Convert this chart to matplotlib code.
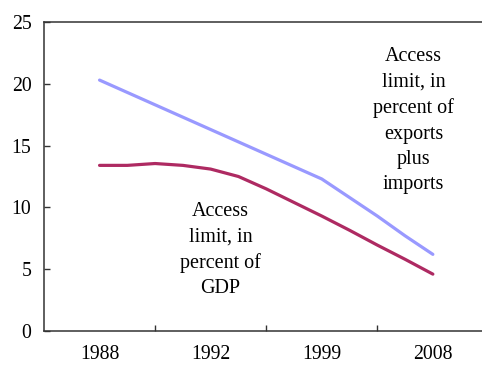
import matplotlib
matplotlib.use("Agg")
import matplotlib.pyplot as plt
import numpy as np

# Category axis: 13 points, only every 4th labelled
tick_labels = ["1988", "1992", "1999", "2008"]
label_idx = [0, 4, 8, 12]

# Access limit, percent of exports plus imports
trade_limit = [20.3, 19.3, 18.3, 17.3, 16.3, 15.3, 14.3, 13.3, 12.3, 10.8, 9.3, 7.7, 6.2]
# Access limit, percent of GDP
gdp_limit = [13.4, 13.4, 13.55, 13.4, 13.1, 12.5, 11.5, 10.4, 9.3, 8.15, 6.95, 5.8, 4.6]

plt.rcParams["font.family"] = ["Liberation Serif", "DejaVu Serif"]

fig = plt.figure(figsize=(4.82, 3.65), dpi=100)
ax = fig.add_axes([0.0913, 0.0932, 0.922, 0.8465])

x = np.arange(len(gdp_limit))
ax.plot(x, trade_limit, color="#9999FF", lw=2.3, solid_capstyle="round")
ax.plot(x, gdp_limit, color="#AE2A62", lw=2.3, solid_capstyle="round")

ax.set_xlim(-2, 14)
ax.set_ylim(0, 25)
ax.set_yticks(np.arange(0, 26, 5))

# tick marks sit between labelled categories, labels on the minor positions
ax.set_xticks([2, 6, 10])
ax.set_xticklabels([])
ax.set_xticks(label_idx, minor=True)
ax.set_xticklabels(tick_labels, minor=True)
ax.tick_params(axis="x", which="major", direction="in", length=4, width=1, color="#333333")
ax.tick_params(axis="x", which="minor", length=0, pad=10, labelsize=14.2)
ax.tick_params(axis="y", direction="in", length=4, width=1, color="#333333", pad=9, labelsize=14.2)

for side in ["left", "bottom", "top"]:
    ax.spines[side].set_color("#333333")
    ax.spines[side].set_linewidth(1.1)
ax.spines["right"].set_visible(False)

ax.text(11.3, 17.0, "Access\nlimit, in\npercent of\nexports\nplus\nimports",
        ha="center", va="center", fontsize=14.5, linespacing=1.45)
ax.text(4.35, 6.55, "Access\nlimit, in\npercent of\nGDP",
        ha="center", va="center", fontsize=14.5, linespacing=1.45)

fig.savefig("out.png", dpi=100)
